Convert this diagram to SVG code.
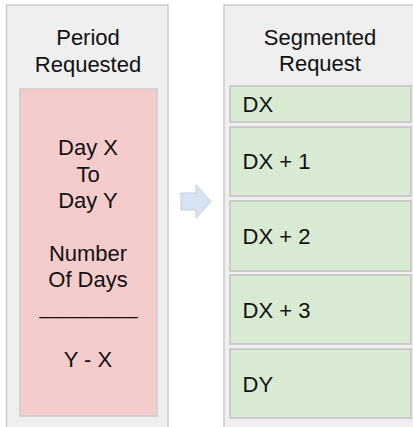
<svg xmlns="http://www.w3.org/2000/svg" width="413" height="427" viewBox="0 0 413 427">
  <style>
    .panel { fill: #efefef; stroke: #cccccc; stroke-width: 1.5; }
    .period { fill: #f4cccc; stroke: #cccccc; stroke-width: 1.5; }
    .seg { fill: #d9ead3; stroke: #c2c2c2; stroke-width: 1.5; }
    .arrow { fill: #d5e3f2; stroke: #c6cfd8; stroke-width: 1; }
    text { font-family: "Liberation Sans", Arial, sans-serif; font-size: 22px; fill: #111111; }
    .mid { text-anchor: middle; }
  </style>

  <rect width="413" height="427" fill="#ffffff"/>

  <!-- Left panel: requested period -->
  <g id="period-panel">
    <rect class="panel" x="6.5" y="5" width="161.5" height="430"/>
    <text class="mid" x="88" y="45">Period</text>
    <text class="mid" x="88" y="71.7">Requested</text>
  </g>

  <g id="period-body">
    <rect class="period" x="20" y="89" width="137" height="327"/>
    <text class="mid" x="88" y="155">Day X</text>
    <text class="mid" x="88" y="181.6">To</text>
    <text class="mid" x="88" y="208.2">Day Y</text>
    <text class="mid" x="88" y="261">Number</text>
    <text class="mid" x="88" y="287">Of Days</text>
    <text class="mid" x="88.5" y="313.5">________</text>
    <text class="mid" x="88" y="367">Y - X</text>
  </g>

  <!-- Connector between the panels -->
  <g id="connectors">
    <path class="arrow" d="M181 193 H196 V185 L211 201.5 L196 218 V210 H181 Z"/>
  </g>

  <!-- Right panel: segmented request -->
  <g id="segment-panel">
    <rect class="panel" x="224" y="5" width="200" height="430"/>
    <text class="mid" x="320" y="45">Segmented</text>
    <text class="mid" x="320" y="71">Request</text>
  </g>

  <g id="seg-dx">
    <rect class="seg" x="230" y="86" width="181" height="36"/>
    <text x="242.5" y="111.8">DX</text>
  </g>
  <g id="seg-dx1">
    <rect class="seg" x="230" y="127" width="181" height="69"/>
    <text x="242.5" y="169.4">DX + 1</text>
  </g>
  <g id="seg-dx2">
    <rect class="seg" x="230" y="201" width="181" height="70"/>
    <text x="242.5" y="243.5">DX + 2</text>
  </g>
  <g id="seg-dx3">
    <rect class="seg" x="230" y="275" width="181" height="69"/>
    <text x="242.5" y="317.8">DX + 3</text>
  </g>
  <g id="seg-dy">
    <rect class="seg" x="230" y="349" width="181" height="69"/>
    <text x="242.5" y="391.6">DY</text>
  </g>
</svg>
